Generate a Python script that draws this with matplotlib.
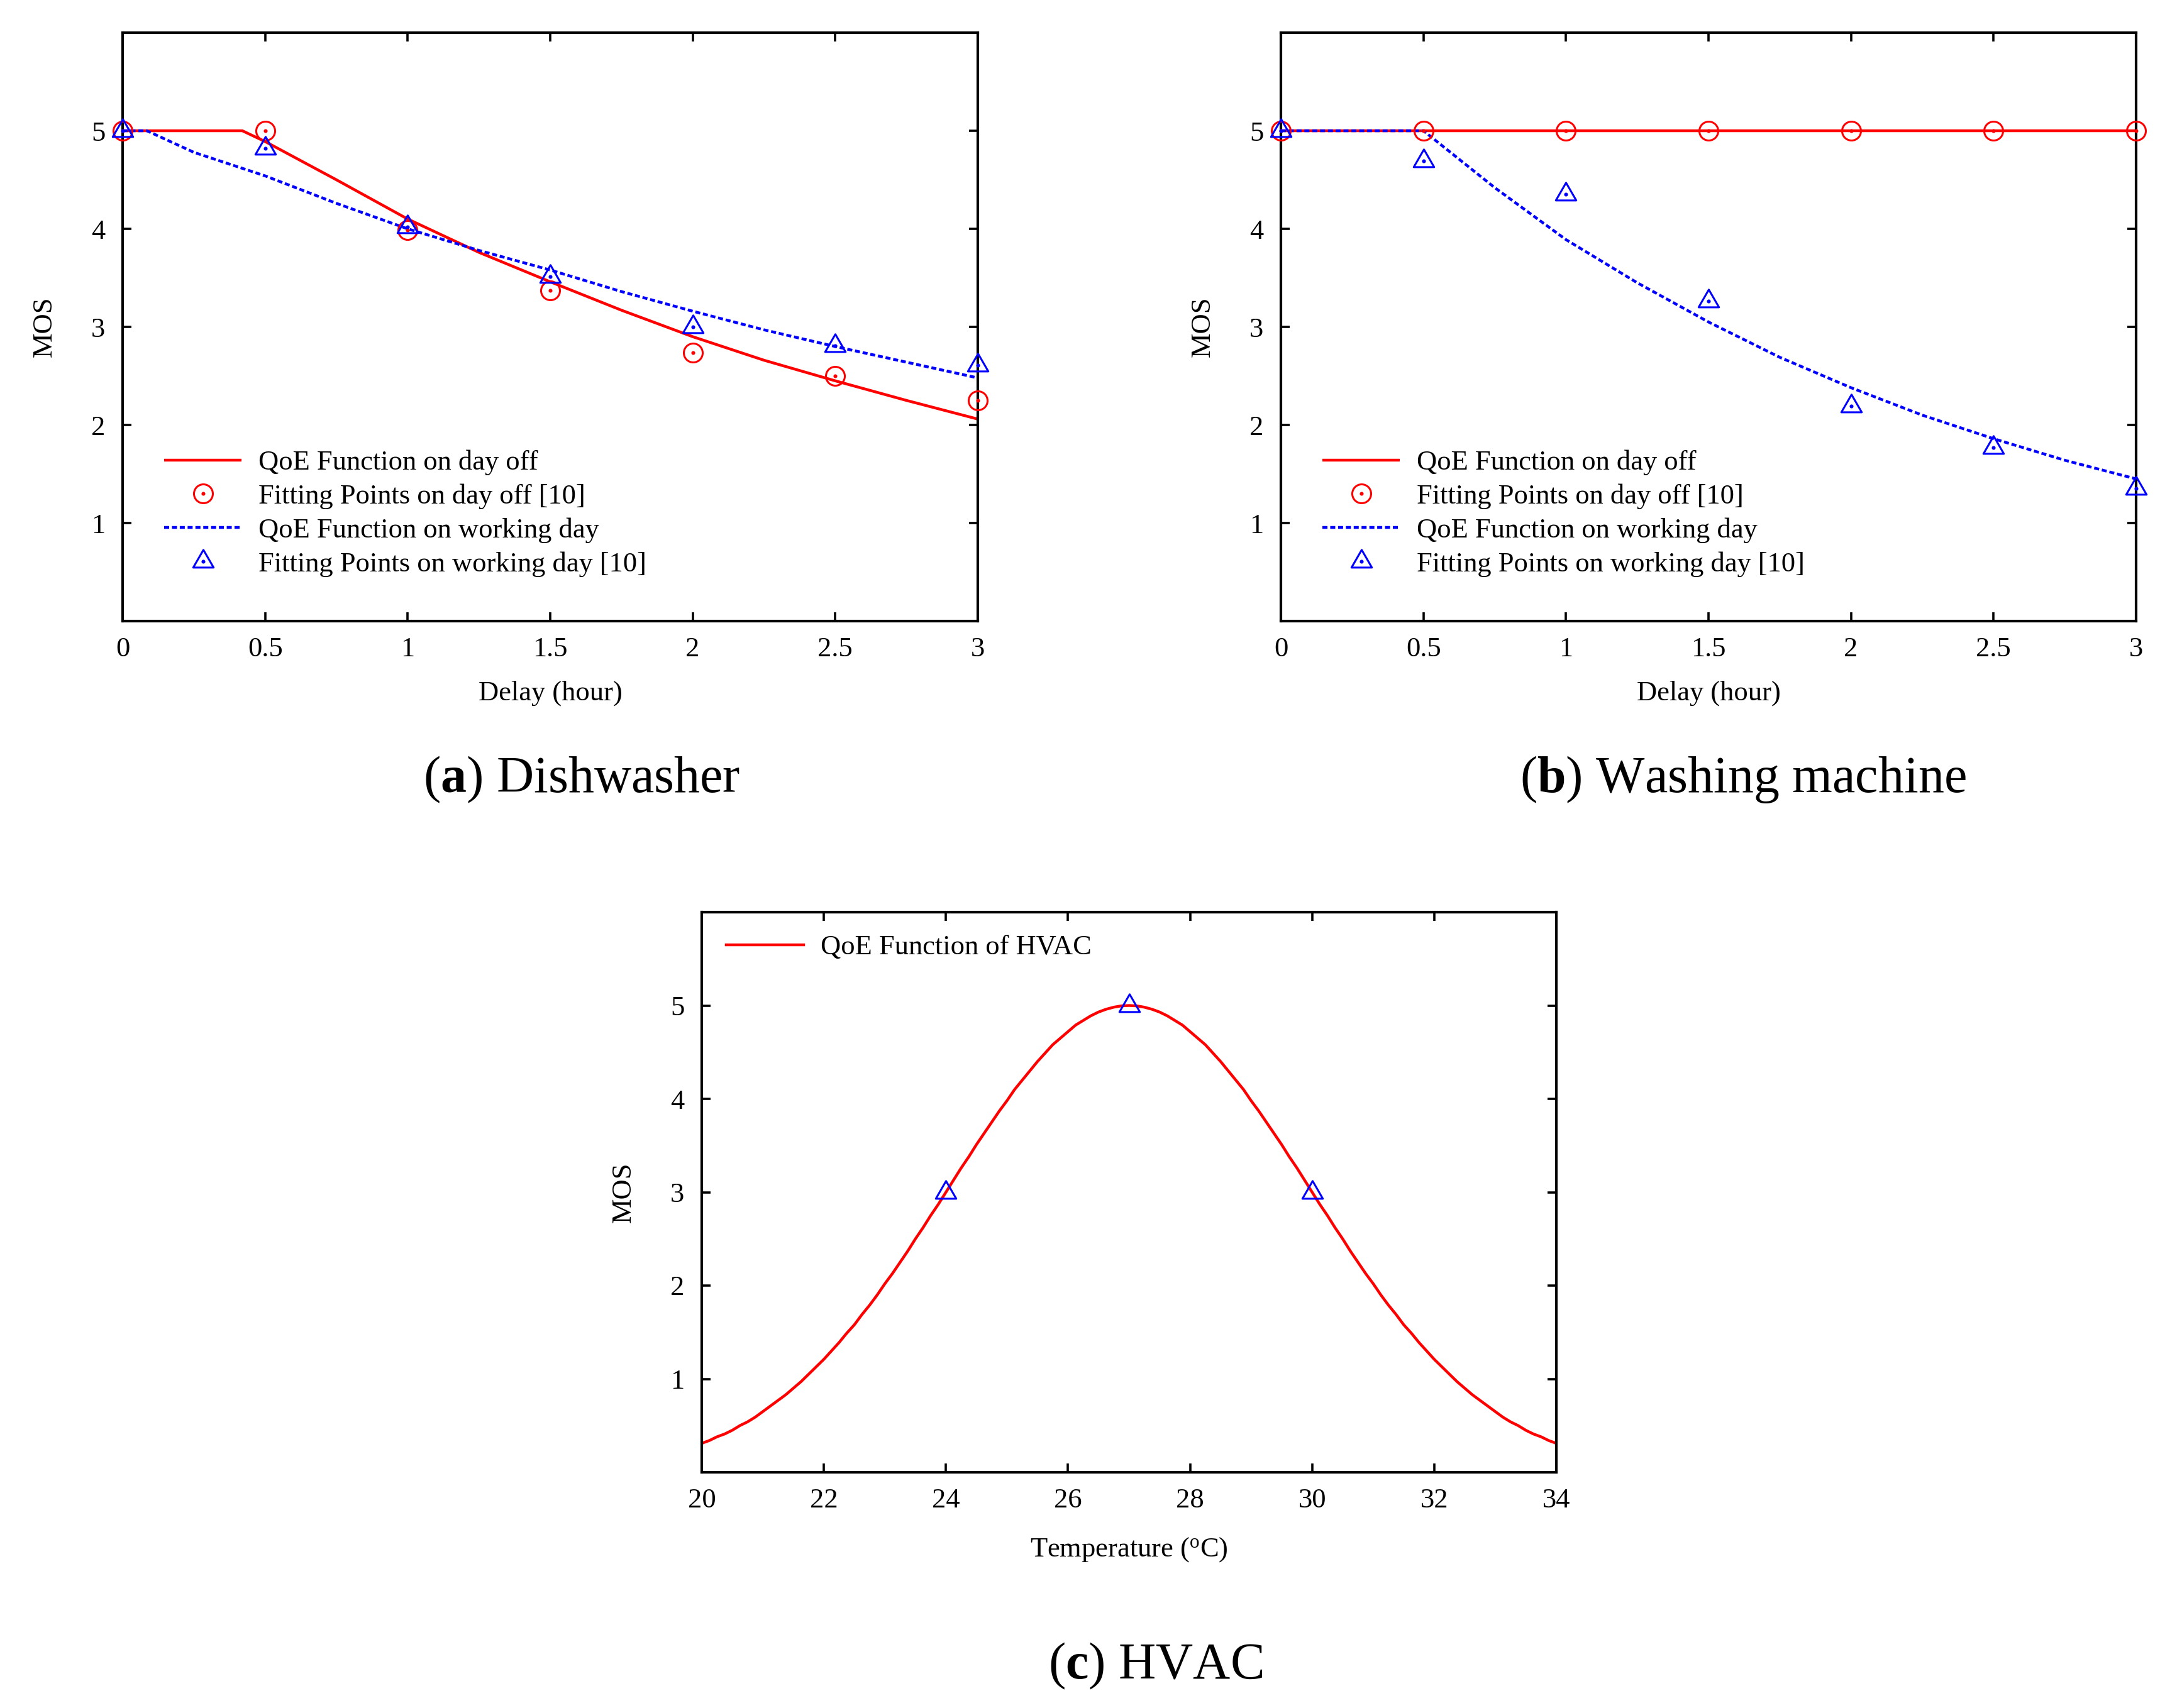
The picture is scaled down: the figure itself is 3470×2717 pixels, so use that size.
import matplotlib
matplotlib.use("Agg")
import matplotlib.pyplot as plt
from matplotlib.legend_handler import HandlerTuple
from matplotlib.path import Path

plt.rcParams['font.family'] = ['Liberation Serif', 'DejaVu Serif']
plt.rcParams['mathtext.fontset'] = 'custom'
plt.rcParams['mathtext.rm'] = 'Liberation Serif'
plt.rcParams['mathtext.bf'] = 'Liberation Serif:bold'
plt.rcParams['mathtext.it'] = 'Liberation Serif:italic'

# ---------------- data ----------------
delay_ticks = [0, 0.5, 1, 1.5, 2, 2.5, 3]
delay_tick_labels = ["0", "0.5", "1", "1.5", "2", "2.5", "3"]
mos_ticks = [1, 2, 3, 4, 5]

# (a) Dishwasher
dw_pts_x = [0, 0.5, 1, 1.5, 2, 2.5, 3]
dw_off_pts = [5, 5, 3.99, 3.37, 2.74, 2.50, 2.25]
dw_work_pts = [5, 4.82, 4.02, 3.51, 3.00, 2.81, 2.61]
dw_off_curve_x = [0, 0.42, 0.5, 0.75, 1, 1.25, 1.5, 1.75, 2, 2.25, 2.5, 2.75, 3]
dw_off_curve_y = [5, 5, 4.89, 4.50, 4.10, 3.76, 3.46, 3.17, 2.90, 2.66, 2.45, 2.25, 2.06]
dw_work_curve_x = [0, 0.085, 0.25, 0.5, 0.75, 1, 1.25, 1.5, 1.75, 2, 2.25, 2.5, 2.75, 3]
dw_work_curve_y = [5, 5, 4.78, 4.54, 4.26, 4.00, 3.78, 3.58, 3.36, 3.16, 2.97, 2.80, 2.64, 2.48]

# (b) Washing machine
wm_pts_x = [0, 0.5, 1, 1.5, 2, 2.5, 3]
wm_off_pts = [5, 5, 5, 5, 5, 5, 5]
wm_work_pts = [5, 4.69, 4.35, 3.26, 2.19, 1.77, 1.35]
wm_off_curve_x = [0, 3]
wm_off_curve_y = [5, 5]
wm_work_curve_x = [0, 0.5, 0.75, 1, 1.25, 1.5, 1.75, 2, 2.25, 2.5, 2.75, 3]
wm_work_curve_y = [5, 5, 4.42, 3.89, 3.45, 3.05, 2.69, 2.38, 2.10, 1.86, 1.64, 1.45]

# (c) HVAC
temp_ticks = [20, 22, 24, 26, 28, 30, 32, 34]
hvac_curve_x = [20 + 0.125 * i for i in range(113)]
hvac_curve_y = [0.31, 0.34, 0.38, 0.41, 0.45, 0.50, 0.54, 0.59, 0.65, 0.71, 0.77, 0.83,
                0.90, 0.97, 1.05, 1.13, 1.21, 1.30, 1.39, 1.49, 1.58, 1.69, 1.79, 1.90,
                2.02, 2.13, 2.25, 2.37, 2.50, 2.62, 2.75, 2.87, 3.00, 3.13, 3.26, 3.38,
                3.51, 3.63, 3.75, 3.87, 3.98, 4.10, 4.20, 4.30, 4.40, 4.49, 4.58, 4.65,
                4.72, 4.79, 4.84, 4.89, 4.93, 4.960, 4.982, 4.996, 5.00,
                4.996, 4.982, 4.960, 4.93, 4.89, 4.84, 4.79, 4.72,
                4.65, 4.58, 4.49, 4.40, 4.30, 4.20, 4.10, 3.98, 3.87, 3.75, 3.63, 3.51,
                3.38, 3.26, 3.13, 3.00, 2.87, 2.75, 2.62, 2.50, 2.37, 2.25, 2.13, 2.02,
                1.90, 1.79, 1.69, 1.58, 1.49, 1.39, 1.30, 1.21, 1.13, 1.05, 0.97, 0.90,
                0.83, 0.77, 0.71, 0.65, 0.59, 0.54, 0.50, 0.45, 0.41, 0.38, 0.34, 0.31]
hvac_pts_x = [24, 27, 30]
hvac_pts_y = [3, 5, 3]

legend_labels = ["QoE Function on day off", "Fitting Points on day off [10]",
                 "QoE Function on working day", "Fitting Points on working day [10]"]

# ---------------- style ----------------
RED = '#ff0000'
BLUE = '#0000ff'
FS = 16
TRI = Path([(-1, -0.577), (1, -0.577), (0, 1.155), (-1, -0.577)],
           [Path.MOVETO, Path.LINETO, Path.LINETO, Path.CLOSEPOLY])
LW = 1.6

fig = plt.figure(figsize=(17.35, 13.585), dpi=200)


def style_axes(ax, xlim, xticks, xticklabels):
    ax.set_xlim(*xlim)
    ax.set_ylim(0, 6)
    ax.set_xticks(xticks)
    ax.set_xticklabels(xticklabels)
    ax.set_yticks(mos_ticks)
    ax.tick_params(axis='both', which='major', direction='in', length=5, width=1.3,
                   labelsize=FS, top=True, right=True)
    ax.tick_params(axis='x', pad=9)
    ax.tick_params(axis='y', pad=10)
    for s in ax.spines.values():
        s.set_linewidth(1.5)
    ax.set_ylabel("MOS", fontsize=FS)
    ax.yaxis.set_label_coords(-0.077, 0.5)


def delay_panel(ax, off_cx, off_cy, work_cx, work_cy, pts_x, off_pts, work_pts):
    l1, = ax.plot(off_cx, off_cy, color=RED, lw=LW, solid_capstyle='butt')
    l2, = ax.plot(work_cx, work_cy, color=BLUE, lw=LW, linestyle=(0, (1.8, 1.0)))
    m1, = ax.plot(pts_x, off_pts, linestyle='none', marker='o', markersize=10.8,
                  markerfacecolor='none', markeredgecolor=RED, markeredgewidth=1.1,
                  clip_on=False, zorder=4)
    d1, = ax.plot(pts_x, off_pts, linestyle='none', marker='o', markersize=1.2,
                  color=RED, clip_on=False, zorder=4)
    m2, = ax.plot(pts_x, work_pts, linestyle='none', marker=TRI, markersize=13.5,
                  markerfacecolor='none', markeredgecolor=BLUE, markeredgewidth=1.1,
                  clip_on=False, zorder=5)
    d2, = ax.plot(pts_x, work_pts, linestyle='none', marker='o', markersize=1.2,
                  color=BLUE, clip_on=False, zorder=5)
    style_axes(ax, (0, 3), delay_ticks, delay_tick_labels)
    ax.set_xlabel("Delay (hour)", fontsize=FS)
    ax.xaxis.set_label_coords(0.5, -0.101)
    ax.legend([l1, (m1, d1), l2, (m2, d2)], legend_labels,
              handler_map={tuple: HandlerTuple(ndivide=1)},
              loc='center left', bbox_to_anchor=(0.0485, 0.183), frameon=False,
              fontsize=FS, handlelength=2.77, handletextpad=0.6, labelspacing=0.3,
              borderpad=0, borderaxespad=0, numpoints=1)


W, H = 3470.0, 2717.0
ax_a = fig.add_axes([195 / W, (H - 988) / H, 1360 / W, 936 / H])
ax_b = fig.add_axes([2037 / W, (H - 988) / H, 1360 / W, 936 / H])
ax_c = fig.add_axes([1116 / W, (H - 2342) / H, 1359 / W, 891 / H])

delay_panel(ax_a, dw_off_curve_x, dw_off_curve_y, dw_work_curve_x, dw_work_curve_y,
            dw_pts_x, dw_off_pts, dw_work_pts)
delay_panel(ax_b, wm_off_curve_x, wm_off_curve_y, wm_work_curve_x, wm_work_curve_y,
            wm_pts_x, wm_off_pts, wm_work_pts)

# (c)
lc, = ax_c.plot(hvac_curve_x, hvac_curve_y, color=RED, lw=LW)
ax_c.plot(hvac_pts_x, hvac_pts_y, linestyle='none', marker=TRI, markersize=13.5,
          markerfacecolor='none', markeredgecolor=BLUE, markeredgewidth=1.1,
          clip_on=False, zorder=5)
style_axes(ax_c, (20, 34), temp_ticks, [str(t) for t in temp_ticks])
ax_c.set_xlabel(r"Temperature ($^{\mathrm{o}}$C)", fontsize=FS)
ax_c.xaxis.set_label_coords(0.5, -0.113)
ax_c.legend([lc], ["QoE Function of HVAC"], loc='center left',
            bbox_to_anchor=(0.0287, 0.937), frameon=False, fontsize=FS,
            handlelength=2.77, handletextpad=0.6, borderpad=0, borderaxespad=0)

# captions
CAP = 29.5
fig.text(925 / W, 1 - 1240 / H, r"($\mathbf{a}$) Dishwasher", ha='center', va='center',
         fontsize=CAP)
fig.text(2772 / W, 1 - 1240 / H, r"($\mathbf{b}$) Washing machine", ha='center',
         va='center', fontsize=CAP)
fig.text(1838 / W, 1 - 2650 / H, r"($\mathbf{c}$) HVAC", ha='center', va='center',
         fontsize=CAP)

fig.savefig("out.png", dpi=200)
